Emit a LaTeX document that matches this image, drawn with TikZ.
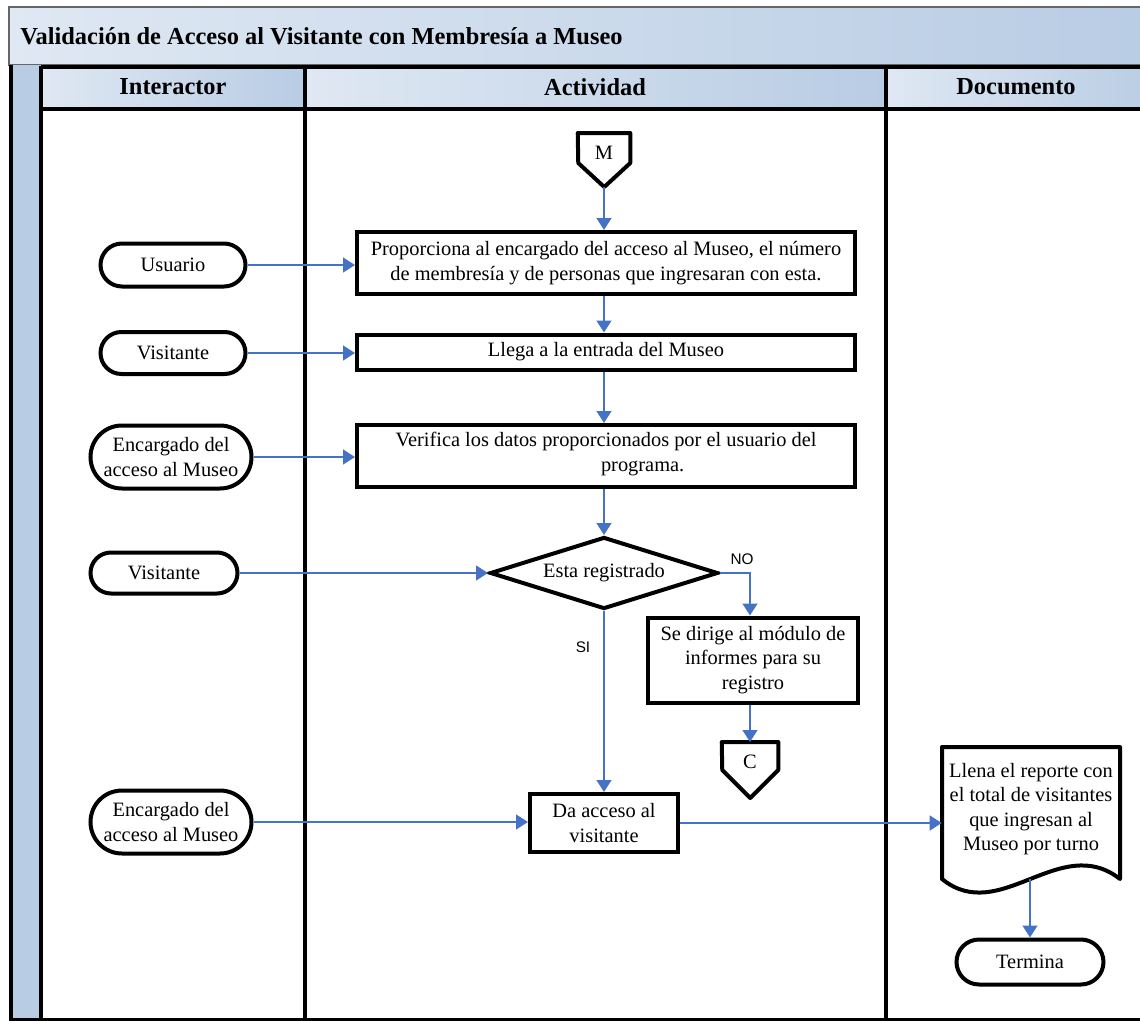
\documentclass[tikz,border=0pt]{standalone}
\usepackage{fontspec}
\setmainfont{Liberation Serif}
\newfontfamily\labelfont{Liberation Sans}
\usetikzlibrary{arrows.meta,shapes.geometric,shapes.misc}
\definecolor{flowblue}{HTML}{4472C4}
\definecolor{laneLight}{HTML}{DFE8F3}
\definecolor{laneDark}{HTML}{B8CCE4}
\newcommand\pxu{0.75pt}
\begin{document}
\begin{tikzpicture}[x=0.75pt,y=-0.75pt,
  every node/.style={font=\fontsize{15.3}{18.4}\selectfont, inner sep=0pt},
  lane/.style={line width=3.2pt, draw=black},
  procbox/.style={draw, line width=3pt, fill=white, align=center},
  term/.style={draw, rounded rectangle, line width=3pt, fill=white, align=center},
  flow/.style={draw=flowblue, line width=1.8pt, -{Triangle[length=9pt,width=11pt]}},
  lbl/.style={font=\labelfont\fontsize{11.5}{13}\selectfont},
  head/.style={font=\bfseries\fontsize{18.3}{21}\selectfont}
]
\useasboundingbox (0,0) rectangle (1140,1021);
\clip (0,0) rectangle (1140,1021);

% ---- swimlane frame ----
\shade[left color=laneLight, right color=laneDark] (9,7) rectangle (1160,65);
\draw[line width=1pt, draw=black!60] (9,7) rectangle (1160,65);
\fill[laneDark] (11,65) rectangle (41,1020);
\shade[left color=laneLight, right color=laneDark] (41,67) rectangle (305,109);
\shade[left color=laneLight, right color=laneDark] (305,67) rectangle (886,109);
\shade[left color=laneLight, right color=laneDark] (886,67) rectangle (1160,109);
\draw[lane] (11,65) -- (11,1020) -- (1160,1020);
\draw[lane] (41,66) -- (41,1020);
\draw[lane] (41,67) -- (1160,67);
\draw[lane] (41,109) -- (1160,109);
\draw[lane] (305,67) -- (305,1020);
\draw[lane] (886,67) -- (886,1020);

\node[head, anchor=west] (title) at (20,36) {Validación de Acceso al Visitante con Membresía a Museo};
\node[head] (hInt) at (173,87) {Interactor};
\node[head] (hAct) at (595,87) {Actividad};
\node[head] (hDoc) at (1016,87) {Documento};

% ---- off-page connector M ----
\node[minimum width=52*\pxu, minimum height=40*\pxu, anchor=north] (M) at (604,133) {M};
\draw[line width=3pt, line join=round] (M.north west) -- (M.north east) -- ++(0,30) -- ++(-26,24) -- ++(-26,-24) -- cycle;
\coordinate (Mtip) at (604,187);

% ---- activities ----
\node[procbox, minimum width=498*\pxu, minimum height=62*\pxu] (b1) at (606,263)
  {Proporciona al encargado del acceso al Museo, el número\\de membresía y de personas que ingresaran con esta.};
\node[procbox, minimum width=498*\pxu, minimum height=35*\pxu] (b2) at (606,352) {Llega a la entrada del Museo};
\node[procbox, minimum width=498*\pxu, minimum height=62*\pxu, text depth=6pt] (b3) at (606,456)
  {Verifica los datos proporcionados por el usuario del\\\hspace*{55pt}programa.};
\node[draw, diamond, aspect=3.17, line width=3pt, fill=white, minimum width=228*\pxu, minimum height=72*\pxu] (dia) at (604,573) {Esta registrado};
\node[procbox, minimum width=210*\pxu, minimum height=85*\pxu] (b4) at (753,660)
  {Se dirige al módulo de\\informes para su\\registro};
\node[procbox, minimum width=148*\pxu, minimum height=58*\pxu] (b5) at (604,823) {Da acceso al\\visitante};

% ---- off-page connector C ----
\node[minimum width=56*\pxu, minimum height=40*\pxu, anchor=north] (C) at (750,742) {C};
\draw[line width=3pt, line join=round] (C.north west) -- (C.north east) -- ++(0,28) -- ++(-28,28) -- ++(-28,-28) -- cycle;

% ---- interactors ----
\node[term, minimum width=145*\pxu, minimum height=43*\pxu] (usr) at (173,265) {Usuario};
\node[term, minimum width=145*\pxu, minimum height=42*\pxu] (vis1) at (173,353) {Visitante};
\node[term, minimum width=161*\pxu, minimum height=63*\pxu] (enc1) at (171,457) {Encargado del\\acceso al Museo};
\node[term, minimum width=147*\pxu, minimum height=41*\pxu] (vis2) at (164,573) {Visitante};
\node[term, minimum width=161*\pxu, minimum height=63*\pxu] (enc2) at (171,822) {Encargado del\\acceso al Museo};

% ---- document ----
\draw[line width=3pt, fill=white, line join=round] (942,747) -- (1120,747) -- (1120,879)
  .. controls (1060,832) and (1000,926) .. (942,879) -- cycle;
\node[align=center, minimum width=178*\pxu] (doc) at (1031,809)
  {Llena el reporte con\\el total de visitantes\\que ingresan al\\Museo por turno};
\coordinate (docbot) at (1030,879);
\node[term, minimum width=147*\pxu, minimum height=45*\pxu] (fin) at (1030,962) {Termina};

% ---- connectors (main column runs straight down at the connector's x) ----
\draw[flow] (Mtip) -- (Mtip |- b1.north);
\draw[flow] (usr.east) -- (usr.east -| b1.west);
\draw[flow] (b1.south -| Mtip) -- (b2.north -| Mtip);
\draw[flow] (vis1.east) -- (vis1.east -| b2.west);
\draw[flow] (b2.south -| Mtip) -- (b3.north -| Mtip);
\draw[flow] (enc1.east) -- (enc1.east -| b3.west);
\draw[flow] (b3.south -| dia.north) -- (dia.north);
\draw[flow] (vis2.east) -- (dia.west);
\draw[flow] (dia.east) -| (C.north |- b4.north);
\draw[flow] (dia.south) -- (b5.north);
\draw[flow] (b4.south -| C.north) -- (C.north);
\draw[flow] (enc2.east) -- (enc2.east -| b5.west);
\draw[flow] (b5.east) -- (b5.east -| doc.west);
\draw[flow] (docbot) -- (fin.north);

\node[lbl] (no) at (742,559) {NO};
\node[lbl] (si) at (583,647) {SI};
\end{tikzpicture}
\end{document}
